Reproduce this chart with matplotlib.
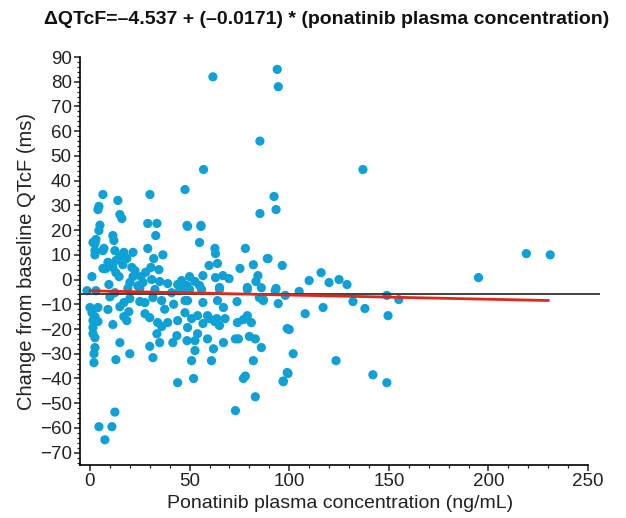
"""
Scatter of QTcF change vs ponatinib plasma concentration with linear fit
"""

import matplotlib
matplotlib.use('Agg')
import matplotlib.pyplot as plt
import numpy as np
from matplotlib.ticker import MultipleLocator

conc = [
    61.7, 94, 94.5, 85.3, 57, 47.7, 92.4, 85.3, 93.4, 30.1, 6.5, 14, 4.5, 4, 15, 16,
    29, 33.6, 48.7, 55.7, 5, 4.5, 33, 11.5, 12, 1.5, 3, 55, 78, 62.7, 29, 7,
    137, 219, 231, 195, 89, 96.5, 116, 110, 120, 125, 129, 86, 93, 105, 98, 87,
    94.5, 149, 155, 132, 138, 117, 108, 149.6, 100, 86, 102, 123.5, 99.4, 142, 97, 149,
    2.5, 36.6, 2.5, 6.5, 12.5, 17, 21.6, 2.5, 15, 13, 18.5, 32, 8, 6.5, 11.5, 13,
    21, 22.6, 30.6, 34.6, 1, 14.6, 21.6, 25.6, 20, 26.6, 31, 35, 39, 44, 46, 9.5,
    -1.5, 3, 12.5, 19, 25, 32.6, 41, 45,
    0, 4, 9, 15, 17, 20, 25, 27.6, 31.6, 36,
    1, 2.5, 1.5, 4, 1.5, 1.5, 2.5, 2.5, 2, 2,
    11.5, 17, 18.5, 27.6, 30, 34, 36, 39, 44, 33.6, 43.6, 35, 41.6, 30, 15, 20,
    31.6, 13, 44, 12.5, 4.5, 11, 7.5, 73,
    50, 56, 65, 79, 47,
    47.7, 49, 56.7, 64, 73.8, 85, 87, 67,
    47.7, 51, 54, 59, 63.6, 65, 67.8, 74, 77, 79, 81, 49, 54, 48.7, 52.7, 59,
    67, 73, 74.5, 80, 83, 52.7, 62, 51, 61, 82, 52, 77, 78, 83, 97, 99,
    99, 56.7, 62.7, 59.8,
    49, 55.7, 63, 64, 59.8, 89.4, 82, 75.3,
    50, 56.7, 63, 66.7, 69.8, 84.3, 83.3, 52.7, 48.7, 55, 65, 79, 93.4,
    9, 16.5, 24, 28, 10, 19.5, 37.5, 42,
]
dqtcf = [
    82, 85, 78, 56, 44.5, 36.4, 33.6, 26.7, 28.3, 34.4, 34.4, 32, 29.6, 28.3, 26.3, 24.7,
    22.7, 22.7, 21.9, 21.9, 22, 19.8, 17.8, 17.8, 15.8, 15, 16.2, 15, 12.6, 12.6, 12.6, 12.6,
    44.5, 10.5, 10, 0.8, 8.5, 5.7, 2.8, -0.4, -1.2, 0, -2, -3.3, -4.5, -4.8, -6.4, -8.1,
    -9.7, -6.4, -8.1, -8.9, -11.7, -11.3, -13.8, -14.6, -20.2, -27.5, -30, -32.8, -38, -38.5, -41.3, -41.7,
    14.5, 10, 11.7, 11.7, 11.7, 11, 11, 10, 9.3, 7.7, 8.5, 8.5, 4.5, 4.5, 4.9, 2.8,
    4.9, 3.6, 4.9, 4, 1.2, 1.2, 1.2, 1.2, -1.2, -1.2, 0, -0.8, -1.6, -2, -0.4, -2,
    -4.5, -4.5, -5.3, -3.6, -3.6, -4, -5.3, -4.5,
    -11.3, -11.3, -12.1, -11, -9.3, -7.7, -8.9, -9.3, -7.3, -8.5,
    -13.4, -15, -16.6, -17, -19.4, -21.9, -23.5, -27.5, -30, -33.6,
    -18.2, -15, -16.6, -13.8, -15.4, -17.4, -19, -17.4, -16.6, -21.9, -22.7, -25.5, -25.5, -27, -25.5, -30,
    -31.6, -32.4, -41.7, -53.6, -59.5, -59.5, -64.8, -53,
    -4, -4, -4, -4, -3.6,
    -8.5, -8.5, -9.3, -8.5, -8.9, -7.3, -8.5, -11.3,
    -13.4, -15.8, -14.6, -14.6, -15.8, -18.6, -15.8, -17.4, -16.2, -14.6, -17.4, -19.4, -21.9, -24.7, -24.7, -24,
    -25.5, -24, -24, -23, -24, -28.7, -28, -32.8, -32.8, -32.8, -40, -40, -39, -47.4, -41, -37.6,
    -19.8, -17.8, -17, -15.8,
    21.5, 21.5, 10.5, 6.5, 5.7, 8.5, 6, 4.5,
    1.2, 1.6, 0.8, 1.6, 0.4, 1.6, -0.8, -0.8, -2.4, -2.4, -3.2, -3.2, -3.6,
    7, 6, -2.5, 3, -7, -13, -12, -10,
]

# fitted model from the title and the reference line
intercept = -4.537
slope = -0.0171
fit_range = [0, 230]
ref_level = -5.7

title = u'\u0394QTcF=\u20134.537 + (\u20130.0171) * (ponatinib plasma concentration)'

plt.rcParams['font.family'] = ['Liberation Sans', 'DejaVu Sans']

fig = plt.figure(figsize=(6.26, 5.18), dpi=100)
ax = fig.add_axes([0.1278, 0.1023, 0.8307, 0.7876])

ax.scatter(conc, dqtcf, s=44, color='#0ea1d6', edgecolors='none', zorder=2)
ax.axhline(ref_level, color='#333333', lw=1.3, zorder=3)
x_fit = np.array(fit_range)
ax.plot(x_fit, intercept + slope * x_fit, color='#e3261c', lw=2, zorder=4)

ax.set_xlim(-5, 256)
ax.set_ylim(-75, 90)
ax.xaxis.set_major_locator(MultipleLocator(50))
ax.xaxis.set_minor_locator(MultipleLocator(10))
ax.yaxis.set_major_locator(MultipleLocator(10))
ax.yaxis.set_minor_locator(MultipleLocator(2))
ax.set_xticks(np.arange(0, 251, 50))
ax.set_yticks(np.arange(-70, 91, 10))
ax.set_yticklabels([str(v).replace('-', u'\u2212') for v in range(-70, 91, 10)])

for side in ['top', 'right']:
    ax.spines[side].set_visible(False)
ax.spines['bottom'].set_bounds(-5, 250)
ax.spines['left'].set_linewidth(1.2)
ax.spines['bottom'].set_linewidth(1.2)
ax.tick_params(which='major', direction='out', length=4, width=1.1, pad=2,
               labelsize=13.5, colors='#222222')
ax.tick_params(which='minor', direction='out', length=2.5, width=0.9, colors='#222222')

ax.set_xlabel('Ponatinib plasma concentration (ng/mL)', fontsize=14, color='#222222', labelpad=3)
ax.set_ylabel('Change from baseline QTcF (ms)', fontsize=14.5, color='#222222', labelpad=3)
fig.text(0.521, 0.963, title, ha='center', va='center', fontsize=14,
         fontweight='bold', color='#111111')

fig.savefig('out.png', dpi=100)
